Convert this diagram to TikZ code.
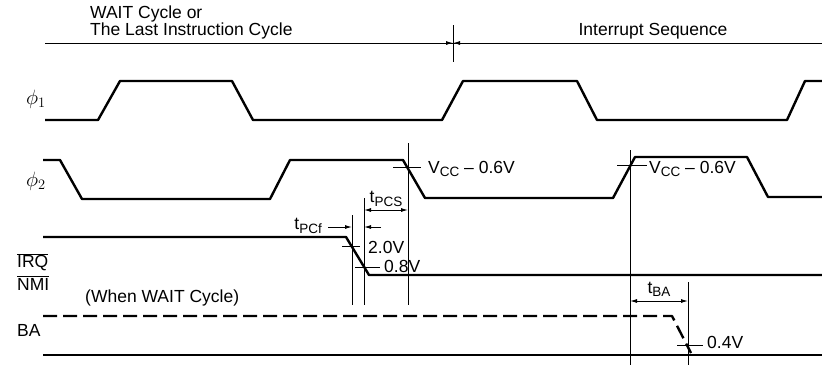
\documentclass[tikz,border=0pt]{standalone}
\usepackage{fontspec}
\setmainfont{Liberation Sans}
\usetikzlibrary{arrows.meta}
\newcommand{\lowsub}[1]{\raisebox{-0.35ex}{\fontsize{13.5}{13.5}\selectfont #1}}
\begin{document}
\begin{tikzpicture}[x=1pt,y=-1pt,
    sig/.style={line width=2.4pt, line join=round},
    guide/.style={line width=0.9pt},
    dim/.style={line width=0.9pt, {Latex[length=7pt,width=4pt]}-{Latex[length=7pt,width=4pt]}},
    pointer/.style={line width=0.9pt, -{Latex[length=7pt,width=4pt]}},
    lbl/.style={font=\fontsize{17.5}{20}\selectfont, inner sep=0pt, anchor=west}]
    \useasboundingbox (0,0) rectangle (822,365);
    % headings
    \node[lbl] (waithead) at (90,14) {WAIT Cycle or};
    \node[lbl] (lasthead) at (90,31) {The Last Instruction Cycle};
    \node[lbl, anchor=center] (inthead) at (653,31) {Interrupt Sequence};
    \draw[line width=1pt] (45,43) -- (822,43);
    \coordinate (split) at (453,43);
    \draw[guide] (453,25) -- (453,62);
    \draw[pointer] (436,43) -- (split);
    \draw[pointer] (470,43) -- (split);
    % signal names
    \node[lbl, font=\fontsize{22}{24}\selectfont] (phione) at (26,99) {$\phi_1$};
    \node[lbl, font=\fontsize{22}{24}\selectfont] (phitwo) at (26,181) {$\phi_2$};
    \node[lbl] (irq) at (17,262) {$\overline{\hbox{IRQ}}$};
    \node[lbl] (nmi) at (17,283) {$\overline{\hbox{NMI}}$};
    \node[lbl] (ba) at (17,330) {BA};
    \node[lbl] (waitnote) at (85,298) {(When WAIT Cycle)};
    % waveforms
    \draw[sig] (45,120) -- (98,120) -- (120,81) -- (232,81) -- (253,120) -- (442,120)
        -- (463,81) -- (577,81) -- (597,120) -- (787,120) -- (805,81) -- (822,81);
    \draw[sig] (43,160) -- (60,160) -- (82,199) -- (270,199) -- (290,160) -- (403,160)
        -- (425,198) -- (613,198) -- (635,157) -- (747,157) -- (768,197) -- (822,197);
    \draw[sig] (43,237) -- (346,237) -- (369,275) -- (822,275);
    \draw[sig, dash pattern=on 14pt off 6pt] (43,316) -- (672,316) -- (691,353);
    \draw[sig] (43,355) -- (822,355);
    % reference lines
    \coordinate (pcsl) at (364,210);
    \coordinate (pcsr) at (408,210);
    \coordinate (pcfl) at (352,227);
    \coordinate (pcfr) at (364,227);
    \coordinate (bal) at (630,301);
    \coordinate (bar) at (688,301);
    \draw[guide] (408,143) -- (408,305);
    \draw[guide] (364,198) -- (364,305);
    \draw[guide] (352,215) -- (352,305);
    \draw[guide] (630,150) -- (630,365);
    \draw[guide] (688,282) -- (688,365);
    % level marks
    \draw[guide] (393,167) -- (421,167);
    \draw[guide] (617,165) -- (647,165);
    \draw[guide] (342,246) -- (360,246);
    \draw[guide] (355,267) -- (380,267);
    \draw[guide] (677,345) -- (703,345);
    \node[lbl] (vccone) at (428,169) {V\lowsub{CC} -- 0.6V};
    \node[lbl] (vcctwo) at (649,169) {V\lowsub{CC} -- 0.6V};
    \node[lbl] (hilvl) at (368,247) {2.0V};
    \node[lbl] (lolvl) at (384,266) {0.8V};
    \node[lbl] (balvl) at (707,342) {0.4V};
    % timing
    \draw[dim] (pcsl) -- (pcsr);
    \node[lbl, anchor=center] (tpcs) at (386,199) {t\lowsub{PCS}};
    \draw[pointer] (328,227) -- (pcfl);
    \draw[pointer] (381,227) -- (pcfr);
    \node[lbl, anchor=east] (tpcf) at (322,226) {t\lowsub{PCf}};
    \draw[dim] (bal) -- (bar);
    \node[lbl, anchor=center] (tba) at (659,289) {t\lowsub{BA}};
\end{tikzpicture}
\end{document}
